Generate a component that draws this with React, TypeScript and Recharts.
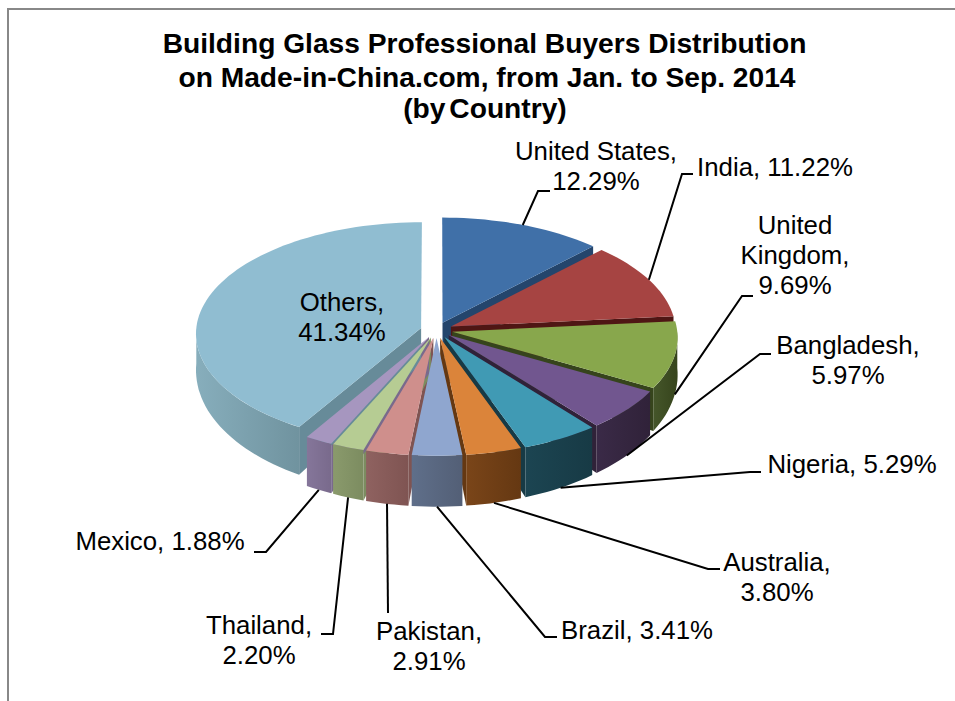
import React from 'react';
import { PieChart, Pie, Cell } from 'recharts';

const categories = ['United States', 'India', 'United Kingdom', 'Bangladesh', 'Nigeria', 'Australia', 'Brazil', 'Pakistan', 'Thailand', 'Mexico', 'Others'];
const shares = [12.29, 11.22, 9.69, 5.97, 5.29, 3.8, 3.41, 2.91, 2.2, 1.88, 41.34];
const titleLines = ['Building Glass Professional Buyers Distribution', 'on Made-in-China.com, from Jan. to Sep. 2014', '(by Country)'];

const topColors = ['#4070a8', '#a64442', '#88a74c', '#71568f', '#409ab4', '#db843a', '#8fa6cf', '#cf8f8c', '#b6cc93', '#a696bf', '#90bdd1'];
const wallLight = ['#2a4f7c', '#641f1e', '#45562a', '#3a2a47', '#1c4552', '#7a4519', '#5f6f8a', '#8f6260', '#8a9a6c', '#85769a', '#87aebc'];
const wallDark = ['#24456c', '#521a18', '#36441c', '#302239', '#173a45', '#653812', '#535f76', '#7f5452', '#7c8c60', '#796a8c', '#70939f'];
const faceColors = ['#24456c', '#4f1614', '#36441c', '#302239', '#173a45', '#653812', '#535f76', '#7f5452', '#7c8c60', '#796a8c', '#678b99'];

// label text rows, "#" stands for the value
const labelRows = [['United States,', '#'], ['India, #'], ['United', 'Kingdom,', '#'], ['Bangladesh,', '#'], ['Nigeria, #'], ['Australia,', '#'], ['Brazil, #'], ['Pakistan,', '#'], ['Thailand,', '#'], ['Mexico, #'], ['Others,', '#']];
const labelX = [596, 775, 795, 848, 852, 777, 637, 429, 259, 160, 342];
const labelY = [160, 176, 234, 354, 473, 571, 639, 640, 634, 550, 311];
// leader bends: [elbow, end]; empty means no leader
const leaders: number[][][] = [
  [[538, 191], [550, 191]],
  [[682, 174], [693, 174]],
  [[742, 296], [753, 296]],
  [[760, 354], [771, 354]],
  [[750, 472], [761, 472]],
  [[708, 569], [720, 569]],
  [[545, 637], [557, 637]],
  [[388, 613], [388, 613]],
  [[333, 634], [321, 634]],
  [[266, 552], [254, 552]],
  [],
];

const CX = 436.5;
const CY = 330;
const RADIUS = 225;
const EXPLODE = 16;
const SQUASH = 0.495;
const PERSP = 0.05;
const rad = Math.PI / 180;

const project = (theta: number, r: number, mid: number, drop = false) => {
  const u = EXPLODE * Math.sin(mid * rad) + r * Math.sin(theta * rad);
  const v = -EXPLODE * Math.cos(mid * rad) - r * Math.cos(theta * rad);
  const s = 1 + (PERSP * v) / RADIUS;
  const depth = drop ? 36 + (14 * v) / RADIUS : 0;
  return [CX + u * s, CY + SQUASH * v * s + depth];
};

const arcPoints = (from: number, to: number, mid: number, drop = false) => {
  const pts: number[][] = [];
  const steps = Math.max(2, Math.ceil((to - from) / 2));
  for (let i = 0; i <= steps; i++) {
    pts.push(project(from + ((to - from) * i) / steps, RADIUS, mid, drop));
  }
  return pts;
};

const toPath = (pts: number[][]) => 'M' + pts.map((p) => `${p[0].toFixed(1)},${p[1].toFixed(1)}`).join('L') + 'Z';

// cut face of an exploded slice, drawn first so outer walls cover it
const FaceShape = (props: any) => {
  const from = 90 - props.startAngle;
  const to = 90 - props.endAngle;
  const mid = (from + to) / 2;
  const edge = mid < 180 ? to : from;
  if (mid < 180 ? to > 180 : from < 180) return <g />;
  return (
    <path
      d={toPath([project(0, 0, mid), project(edge, RADIUS, mid), project(edge, RADIUS, mid, true), project(0, 0, mid, true)])}
      fill={props.fill}
    />
  );
};

const WallShape = (props: any) => {
  const from = 90 - props.startAngle;
  const to = 90 - props.endAngle;
  const mid = (from + to) / 2;
  const a = Math.max(from, 90);
  const b = Math.min(to, 270);
  if (b <= a) return <g />;
  return <path d={toPath([...arcPoints(a, b, mid), ...arcPoints(a, b, mid, true).reverse()])} fill={props.fill} />;
};

const TopShape = (props: any) => {
  const from = 90 - props.startAngle;
  const to = 90 - props.endAngle;
  const mid = (from + to) / 2;
  return <path d={toPath([project(0, 0, mid), ...arcPoints(from, to, mid)])} fill={props.fill} />;
};

const renderLabel = (props: any) => {
  const i = props.index;
  const value = shares[i].toFixed(2) + '%';
  const mid = 90 - props.midAngle;
  const norm = ((mid % 360) + 360) % 360;
  const front = Math.cos(norm * rad) < 0;
  const start = project(norm, RADIUS, norm, front);
  const bends = leaders[i];
  return (
    <g key={categories[i]}>
      {bends.length > 0 && (
        <polyline points={[start, ...bends].map((p) => p.join(',')).join(' ')} fill="none" stroke="#000" strokeWidth={2} />
      )}
      <text textAnchor="middle" fontFamily="Liberation Sans" fontSize={25.8} fill="#000">
        {labelRows[i].map((row, r) => (
          <tspan key={r} x={labelX[i]} y={labelY[i] + r * 30}>
            {row.replace('#', value)}
          </tspan>
        ))}
      </text>
    </g>
  );
};

const chartData = categories.map((name, i) => ({ name, value: shares[i] }));

export default function App() {
  return (
    <div style={{ position: 'absolute', left: 0, top: 0, width: 955, height: 701, overflow: 'hidden', background: '#fff' }}>
      <div style={{ position: 'absolute', left: 7, top: 8, width: 960, height: 700, borderLeft: '2px solid #888', borderTop: '2px solid #888' }} />
      <div style={{ position: 'absolute', left: 0, top: 0 }}>
        <PieChart width={955} height={701}>
          <defs>
            {categories.map((c, i) => (
              <linearGradient key={c} id={`wall${i}`} x1="0" y1="0" x2="1" y2="0">
                <stop offset="0%" stopColor={wallLight[i]} />
                <stop offset="100%" stopColor={wallDark[i]} />
              </linearGradient>
            ))}
          </defs>
          {titleLines.map((line, i) => (
            <text key={line} x={[484.5, 487, 485][i]} y={[53, 87, 118][i]} textAnchor="middle" fontFamily="Liberation Sans" fontWeight="bold" fontSize={28.2} wordSpacing={i === 2 ? -4 : 0} fill="#000">
              {line}
            </text>
          ))}
          <Pie data={chartData} dataKey="value" cx={CX} cy={CY} outerRadius={RADIUS} startAngle={90} endAngle={-270} isAnimationActive={false} shape={FaceShape} stroke="none">
            {categories.map((c, i) => (
              <Cell key={c} fill={faceColors[i]} />
            ))}
          </Pie>
          <Pie data={chartData} dataKey="value" cx={CX} cy={CY} outerRadius={RADIUS} startAngle={90} endAngle={-270} isAnimationActive={false} shape={WallShape} stroke="none">
            {categories.map((c, i) => (
              <Cell key={c} fill={`url(#wall${i})`} />
            ))}
          </Pie>
          <Pie data={chartData} dataKey="value" cx={CX} cy={CY} outerRadius={RADIUS} startAngle={90} endAngle={-270} isAnimationActive={false} shape={TopShape} stroke="none" label={renderLabel} labelLine={false}>
            {categories.map((c, i) => (
              <Cell key={c} fill={topColors[i]} />
            ))}
          </Pie>
        </PieChart>
      </div>
    </div>
  );
}
